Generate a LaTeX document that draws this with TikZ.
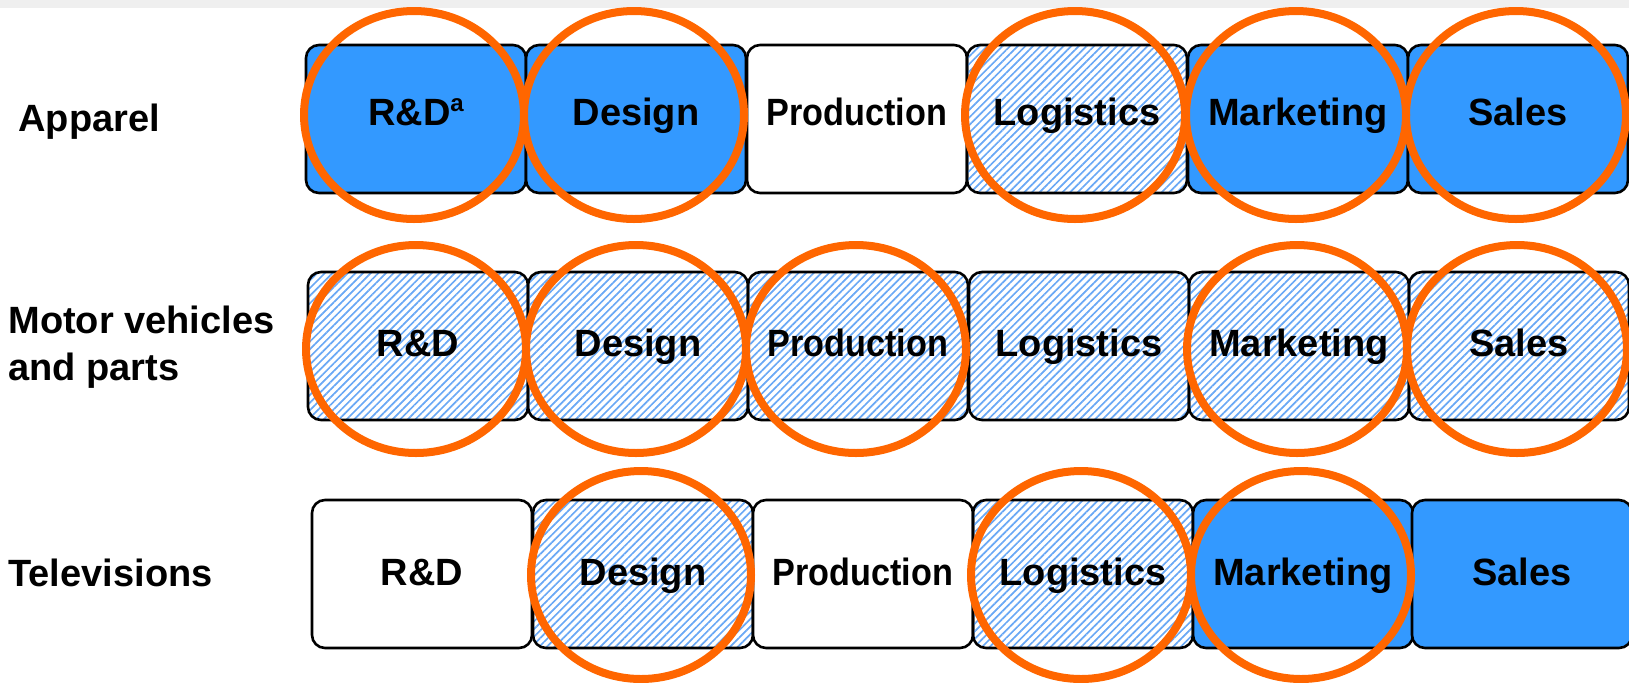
\documentclass[tikz,border=0pt]{standalone}
\usepackage{fontspec}
\usepackage{graphicx}
\setmainfont{Liberation Sans}
\usetikzlibrary{shapes.geometric,patterns.meta}
\definecolor{bandgrey}{RGB}{239,239,239}
\definecolor{vcblue}{RGB}{51,153,255}
\definecolor{hatchblue}{RGB}{105,168,245}
\definecolor{ringorange}{RGB}{255,102,0}
\newcommand{\liftA}[1]{\raisebox{3.5pt}{#1}}
\newcommand{\liftB}[1]{\raisebox{1.5pt}{#1}}
\newcommand{\liftC}[1]{\raisebox{1pt}{#1}}
\newcommand{\supa}{\raisebox{7.2pt}{\fontsize{12pt}{12pt}\selectfont a}}
\begin{document}
\begin{tikzpicture}[x=0.5pt,y=-0.5pt,
  stage/.style={draw=black,line width=1.3pt,rounded corners=6.5pt,
    minimum width=110pt,minimum height=74pt,inner sep=0pt,
    font=\fontsize{19pt}{23pt}\selectfont\bfseries,
    text height=13.6pt,text depth=0pt},
  fullstage/.style={stage,fill=vcblue},
  halfstage/.style={stage,pattern={Lines[angle=45,distance=2.7pt,line width=0.85pt]},pattern color=hatchblue},
  emptystage/.style={stage,fill=white},
  ring/.style={ellipse,draw=ringorange,line width=4pt,inner sep=0pt,
    minimum width=110pt,minimum height=104pt},
  rowlabel/.style={font=\fontsize{19pt}{23.5pt}\selectfont\bfseries,inner sep=0pt,align=left}
]
\useasboundingbox (0,0) rectangle (1629,682);
\fill[bandgrey] (0,0) rectangle (1629,7.5);

% row labels
\node[rowlabel,anchor=base west] (lab1) at (18,131.7) {Apparel};
\node[rowlabel,anchor=west] (lab2) at (8,346.8) {Motor vehicles\\and parts};
\node[rowlabel,anchor=base west] (lab3) at (8,586.7) {Televisions};

% row 1: Apparel
\node[fullstage]  (a1) at (416,119)  {\liftA{R\&D\supa}};
\node[fullstage]  (a2) at (636,119)  {\liftA{Design}};
\node[emptystage] (a3) at (857,119)  {\liftA{\scalebox{0.9}[1]{Production}}};
\node[halfstage]  (a4) at (1077,119) {\liftA{Logistics}};
\node[fullstage]  (a5) at (1298,119) {\liftA{Marketing}};
\node[fullstage]  (a6) at (1518,119) {\liftA{Sales}};

% row 2: Motor vehicles and parts
\node[halfstage] (m1) at (418,346)  {\liftB{R\&D}};
\node[halfstage] (m2) at (638,346)  {\liftB{Design}};
\node[halfstage] (m3) at (858,346)  {\liftB{\scalebox{0.9}[1]{Production}}};
\node[halfstage] (m4) at (1079,346) {\liftB{Logistics}};
\node[halfstage] (m5) at (1299,346) {\liftB{Marketing}};
\node[halfstage] (m6) at (1519,346) {\liftB{Sales}};

% row 3: Televisions
\node[emptystage] (t1) at (422,574)  {\liftC{R\&D}};
\node[halfstage]  (t2) at (643,574)  {\liftC{Design}};
\node[emptystage] (t3) at (863,574)  {\liftC{\scalebox{0.9}[1]{Production}}};
\node[halfstage]  (t4) at (1083,574) {\liftC{Logistics}};
\node[fullstage]  (t5) at (1303,574) {\liftC{Marketing}};
\node[fullstage]  (t6) at (1522,574) {\liftC{Sales}};

% rings
\foreach \n in {a1,a2,a4,a5,a6}
  \node[ring] (r\n) at ([xshift=-1pt,yshift=2pt]\n.center) {};
\foreach \n in {m1,m2,m3,m5,m6}
  \node[ring] (r\n) at ([xshift=-1pt,yshift=-1.5pt]\n.center) {};
\foreach \n in {t2,t4,t5}
  \node[ring] (r\n) at ([xshift=-1pt,yshift=-0.5pt]\n.center) {};
\end{tikzpicture}
\end{document}
